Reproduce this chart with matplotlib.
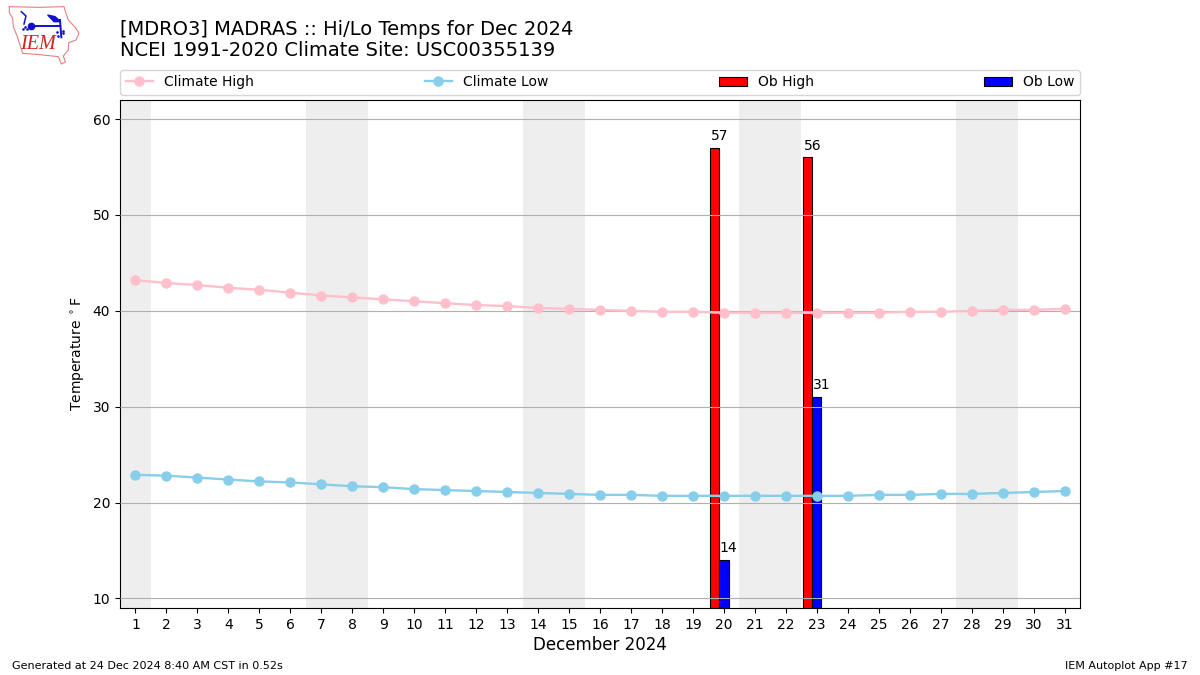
import matplotlib

matplotlib.use("Agg")
import matplotlib.pyplot as plt
from matplotlib.patches import Patch

days = list(range(1, 32))
climate_high = [43.2, 42.9, 42.7, 42.4, 42.2, 41.9, 41.6, 41.4, 41.2, 41.0, 40.8,
                40.6, 40.5, 40.3, 40.2, 40.1, 40.0, 39.9, 39.9, 39.8, 39.8, 39.8,
                39.8, 39.8, 39.8, 39.9, 39.9, 40.0, 40.1, 40.1, 40.2]
climate_low = [22.9, 22.8, 22.6, 22.4, 22.2, 22.1, 21.9, 21.7, 21.6, 21.4, 21.3,
               21.2, 21.1, 21.0, 20.9, 20.8, 20.8, 20.7, 20.7, 20.7, 20.7, 20.7,
               20.7, 20.7, 20.8, 20.8, 20.9, 20.9, 21.0, 21.1, 21.2]
ob_days = [20, 23]
ob_high = [57, 56]
ob_low = [14, 31]
weekends = [1, 7, 8, 14, 15, 21, 22, 28, 29]

# Iowa outline and station glyph for the logo, in logo pixels
logo_outline = [(28, 20), (118, 22), (192, 20), (198, 40), (205, 60), (226, 82), (237, 100),
                (228, 120), (206, 128), (205, 150), (190, 168), (196, 186), (184, 192),
                (175, 170), (120, 164), (68, 160), (60, 135), (52, 110),
                (40, 80), (38, 55), (28, 38), (28, 20)]
logo_shaft = [(95, 78), (180, 78)]
logo_feather = [(143, 45), (165, 50), (182, 65), (162, 65), (143, 45)]
logo_stem = [(180, 60), (184, 112)]
logo_barb = [(64, 35), (78, 48), (72, 72)]
logo_dots = [(68, 88), (74, 80), (80, 88), (170, 95), (190, 100), (175, 108), (188, 92)]

fig = plt.figure(figsize=(12, 6.75), dpi=100)
ax = fig.add_axes([0.1, 0.0993, 0.8, 0.7526])

for day in weekends:
    ax.axvspan(day - 0.5, day + 0.5, color="#eeeeee", lw=0, zorder=1)

ax.grid(True, axis="y", color="#b0b0b0", lw=0.8)
ax.set_axisbelow(False)

line_high, = ax.plot(days, climate_high, color="pink", marker="o", ms=6.5, lw=1.7,
                     label="Climate High", zorder=4)
line_low, = ax.plot(days, climate_low, color="skyblue", marker="o", ms=6.5, lw=1.7,
                    label="Climate Low", zorder=4)

high_x = [d - 0.3 for d in ob_days]
ax.bar(high_x, ob_high, width=0.3, color="r", edgecolor="k", lw=0.8, zorder=2)
ax.bar(ob_days, ob_low, width=0.3, color="b", edgecolor="k", lw=0.8, zorder=2)

for x, value in zip(high_x, ob_high):
    ax.text(x - 0.13, value + 0.5, str(value), ha="left", va="bottom", fontsize=10, zorder=5)
for x, value in zip(ob_days, ob_low):
    ax.text(x - 0.13, value + 0.5, str(value), ha="left", va="bottom", fontsize=10, zorder=5)

ax.set_xlim(0.5, 31.5)
ax.set_ylim(9, 62)
ax.set_xticks(days)
ax.set_yticks([10, 20, 30, 40, 50, 60])
ax.set_xlabel("December 2024", fontsize=12, labelpad=3)
ax.set_ylabel(r"Temperature $^\circ$F", fontsize=10)

handles = [line_high, line_low, Patch(facecolor="r", edgecolor="k", lw=0.8),
           Patch(facecolor="b", edgecolor="k", lw=0.8)]
ax.legend(handles, ["Climate High", "Climate Low", "Ob High", "Ob Low"], ncol=4,
          loc="lower left", bbox_to_anchor=(0, 1.01, 1, 0.05), mode="expand",
          borderaxespad=0, fontsize=10)

fig.text(0.1, 0.9570, "[MDRO3] MADRAS :: Hi/Lo Temps for Dec 2024", fontsize=14, va="center")
fig.text(0.1, 0.9250, "NCEI 1991-2020 Climate Site: USC00355139", fontsize=14, va="center")
fig.text(0.01, 0.0135, "Generated at 24 Dec 2024 8:40 AM CST in 0.52s", fontsize=8, va="center")
fig.text(0.99, 0.0135, "IEM Autoplot App #17", fontsize=8, ha="right", va="center")

# Logo
logo = fig.add_axes([0, 1 - 70 / 675, 130 / 1200, 70 / 675])
logo.set_xlim(0, 390)
logo.set_ylim(210, 0)
logo.axis("off")
logo.plot(*zip(*logo_outline), color="#e48080", lw=0.8)
logo.plot(*zip(*logo_shaft), color="#1010d0", lw=1.4)
logo.plot(*zip(*logo_stem), color="#1010d0", lw=1.4)
logo.plot(*zip(*logo_barb), color="#1010d0", lw=1.1)
logo.fill(*zip(*logo_feather), color="#1010d0")
logo.plot([93], [78], "o", color="#1010d0", ms=4.5)
logo.plot(*zip(*logo_dots), ".", color="#1010d0", ms=1.8)
logo.text(113, 133, "IEM", family="Liberation Serif", style="italic", color="#d02020",
          fontsize=14.5, ha="center", va="center")

fig.savefig("out.png", dpi=100)
